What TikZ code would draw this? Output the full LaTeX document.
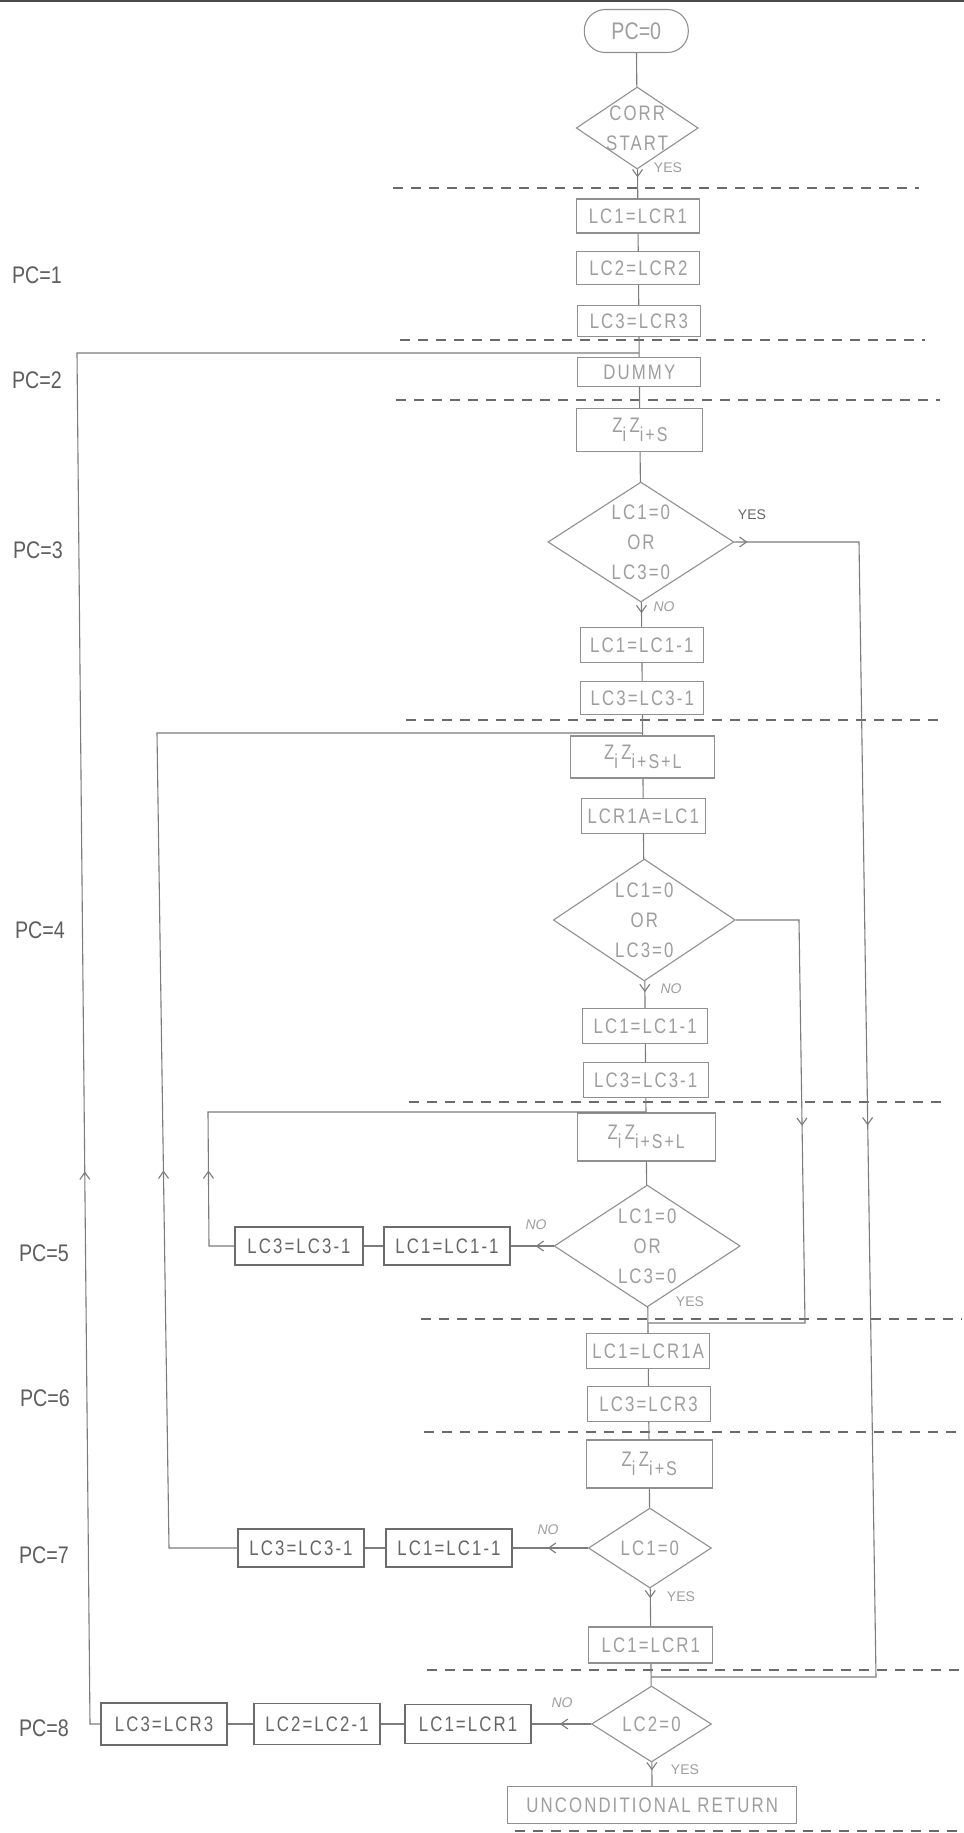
\documentclass[tikz,border=0pt]{standalone}
\usepackage{fontspec}
\setmainfont{Liberation Sans}
\newfontfamily\labfont[FakeStretch=0.82]{Liberation Sans}
\newfontfamily\bfnt[FakeStretch=0.8,LetterSpace=10]{Liberation Sans}
\usetikzlibrary{arrows.meta,decorations.markings,shapes.geometric}
\definecolor{linec}{HTML}{7C7C7C}
\definecolor{boxc}{HTML}{909090}
\definecolor{sboxc}{HTML}{6C6C6C}
\definecolor{mtxt}{HTML}{9E9E9E}
\definecolor{stxt}{HTML}{666666}
\definecolor{dashc}{HTML}{6A6A6A}
\definecolor{labc}{HTML}{5E5E5E}
\definecolor{edgec}{HTML}{4A4A4A}
\newcommand\zsub[1]{\raisebox{-0.45em}{\fontsize{10}{10}\selectfont #1}}
\tikzset{
  box/.style={draw=boxc, line width=0.55pt, minimum width=61.5pt, minimum height=17pt,
    inner sep=1pt, text=mtxt, font=\bfnt\fontsize{10.5}{12}\selectfont},
  sbox/.style={box, draw=sboxc, text=stxt, minimum width=63pt, minimum height=19pt},
  zbox/.style={box, minimum height=22pt},
  dia/.style={diamond, draw=boxc, line width=0.55pt, inner sep=-12pt, aspect=1.5,
    text=mtxt, align=center, font=\bfnt\fontsize{10.5}{15}\selectfont},
  term/.style={draw=boxc, line width=0.55pt, rounded corners=10.5pt, minimum width=52pt,
    minimum height=21.5pt, inner sep=1pt, text=mtxt, font=\labfont\fontsize{12}{14}\selectfont},
  lab/.style={text=labc, inner sep=0pt, font=\labfont\fontsize{12}{14}\selectfont},
  yeslab/.style={text=mtxt, inner sep=0pt, font=\fontsize{7}{8}\selectfont},
  nolab/.style={yeslab, font=\itshape\fontsize{7}{8}\selectfont},
  conn/.style={draw=linec, color=linec, line width=0.55pt},
  arr/.style={postaction={decorate, decoration={markings,
     mark=at position #1 with {\arrow{Straight Barb[length=3.5pt,width=5pt,line width=0.55pt]}}}}},
  dsh/.style={draw=dashc, line width=0.8pt, dash pattern=on 5pt off 4pt},
}
\begin{document}
\begin{tikzpicture}[x=0.5pt,y=-0.5pt]
\useasboundingbox (0,0) rectangle (964,1833);
\fill[white] (0,0) rectangle (964,1833);
\draw[edgec, line width=1pt] (0,1) -- (964,1);
% dashed separators
\draw[dsh] (393,188) -- (919,188);
\draw[dsh] (400,340) -- (925,340);
\draw[dsh] (396,400) -- (940,400);
\draw[dsh] (406,720) -- (943,720);
\draw[dsh] (409,1102) -- (947,1102);
\draw[dsh] (421,1319) -- (962,1319);
\draw[dsh] (424,1432) -- (962,1432);
\draw[dsh] (427,1670) -- (962,1670);
\draw[dsh] (515,1831) -- (964,1831);
% main column
\node[term] (pc0) at (636.3,31) {PC=0};
\node[dia, minimum width=61pt, minimum height=41pt] (cs) at (637.2,128) {CORR\\START};
\node[box] (b1) at (637.9,216) {LC1=LCR1};
\node[box, minimum height=16.5pt] (b2) at (638.4,268) {LC2=LCR2};
\node[box, minimum height=15.5pt] (b3) at (638.9,321) {LC3=LCR3};
\node[box, minimum height=14.5pt] (dummy) at (639.3,372) {DUMMY};
\node[zbox, minimum width=63pt, minimum height=21.5pt] (z1) at (639.9,430) {Z\zsub{i}\,Z\zsub{i+S}};
\node[dia, minimum width=93pt, minimum height=60pt] (d1) at (640.9,542) {LC1=0\\OR\\LC3=0};
\node[box, minimum height=17.5pt] (b4) at (641.8,645) {LC1=LC1-1};
\node[box, minimum height=16.5pt] (b5) at (642.3,698) {LC3=LC3-1};
\node[zbox, minimum width=72pt, minimum height=21pt] (z2) at (642.8,757) {Z\zsub{i}\,Z\zsub{i+S+L}};
\node[box, minimum width=62pt, minimum height=17.5pt] (b6) at (643.3,816) {LCR1A=LC1};
\node[dia, minimum width=91pt, minimum height=61pt] (d2) at (644.3,920) {LC1=0\\OR\\LC3=0};
\node[box, minimum width=62.5pt, minimum height=17.5pt] (b7) at (645.2,1026) {LC1=LC1-1};
\node[box, minimum width=62.5pt, minimum height=17.5pt] (b8) at (645.7,1080) {LC3=LC3-1};
\node[zbox, minimum width=69pt, minimum height=24pt] (z3) at (646.2,1137) {Z\zsub{i}\,Z\zsub{i+S+L}};
\node[dia, minimum width=93pt, minimum height=61pt] (d3) at (647.2,1246) {LC1=0\\OR\\LC3=0};
\node[box, minimum height=17.5pt] (b11) at (648.2,1351) {LC1=LCR1A};
\node[box, minimum height=17.5pt] (b12) at (648.6,1404) {LC3=LCR3};
\node[zbox, minimum width=63pt, minimum height=24pt] (z4) at (649.2,1464) {Z\zsub{i}\,Z\zsub{i+S}};
\node[dia, minimum width=61.5pt, minimum height=40pt] (d4) at (649.9,1548) {LC1=0};
\node[box, minimum width=62pt, minimum height=18pt] (b15) at (650.8,1645) {LC1=LCR1};
\node[dia, minimum width=60pt, minimum height=38pt] (d5) at (651.5,1724) {LC2=0};
\node[box, minimum width=144.5pt, minimum height=18.5pt] (ret) at (652.2,1805) {UNCONDITIONAL RETURN};
% side boxes
\node[sbox] (b9) at (447,1246) {LC1=LC1-1};
\node[sbox, minimum width=64pt] (b10) at (299,1246) {LC3=LC3-1};
\node[sbox] (b13) at (449,1548) {LC1=LC1-1};
\node[sbox] (b14) at (301,1548) {LC3=LC3-1};
\node[sbox, minimum height=19.5pt] (b16) at (468,1724) {LC1=LCR1};
\node[sbox, minimum height=20.5pt] (b17) at (317,1724) {LC2=LC2-1};
\node[sbox, minimum height=21pt] (b18) at (164,1724) {LC3=LCR3};
% junction and corner coordinates
\coordinate (j1) at (639.2,353);
\coordinate (j2) at (642.6,733);
\coordinate (j3) at (646,1112);
\coordinate (j4) at (647.9,1323);
\coordinate (j5) at (651.1,1677);
\coordinate (c1a) at (90,1724); \coordinate (c1b) at (77,353);
\coordinate (c2a) at (169,1548); \coordinate (c2b) at (157,733);
\coordinate (c3a) at (209,1246); \coordinate (c3b) at (208,1112);
\coordinate (r1a) at (859,542); \coordinate (r1b) at (876,1677);
\coordinate (r2a) at (799,920); \coordinate (r2b) at (805,1323);
% main column connectors
\draw[conn] (pc0) -- (cs);
\draw[conn, arr=4pt] (cs) -- (b1);
\draw[conn] (b1) -- (b2);
\draw[conn] (b2) -- (b3);
\draw[conn] (b3) -- (dummy);
\draw[conn] (dummy) -- (z1);
\draw[conn] (z1) -- (d1);
\draw[conn, arr=5.5pt] (d1) -- (b4);
\draw[conn] (b4) -- (b5);
\draw[conn] (b5) -- (z2);
\draw[conn] (z2) -- (b6);
\draw[conn] (b6) -- (d2);
\draw[conn, arr=5.5pt] (d2) -- (b7);
\draw[conn] (b7) -- (b8);
\draw[conn] (b8) -- (z3);
\draw[conn] (z3) -- (d3);
\draw[conn] (d3) -- (b11);
\draw[conn] (b11) -- (b12);
\draw[conn] (b12) -- (z4);
\draw[conn] (z4) -- (d4);
\draw[conn, arr=5pt] (d4) -- (b15);
\draw[conn] (b15) -- (d5);
\draw[conn, arr=4pt] (d5) -- (ret);
% side branches
\draw[conn, arr=9pt] (d3.west) -- (b9.east);
\draw[conn] (b9) -- (b10);
\draw[conn, arr=20pt] (d4.west) -- (b13.east);
\draw[conn] (b13) -- (b14);
\draw[conn, arr=15.5pt] (d5.west) -- (b16.east);
\draw[conn] (b16) -- (b17);
\draw[conn] (b17) -- (b18);
% loops
\draw[conn, arr=50.5pt] (b10.west) -- (c3a) -- (c3b) -- (j3);
\draw[conn, arr=223pt] (b14.west) -- (c2a) -- (c2b) -- (j2);
\draw[conn, arr=281.5pt] (b18.west) -- (c1a) -- (c1b) -- (j1);
\draw[conn, arr=6.5pt, arr=354pt] (d1.east) -- (r1a) -- (r1b) -- (j5);
\draw[conn, arr=134.5pt] (d2.east) -- (r2a) -- (r2b) -- (j4);
% yes / no labels
\node[yeslab] (ycs) at (668,168) {YES};
\node[yeslab, text=stxt] (yd1) at (752,515) {YES};
\node[nolab] (nd1) at (664,607) {NO};
\node[nolab] (nd2) at (671,989) {NO};
\node[nolab] (nd3) at (536,1225) {NO};
\node[yeslab] (yd3) at (690,1302) {YES};
\node[nolab] (nd4) at (548,1530) {NO};
\node[yeslab] (yd4) at (681,1597) {YES};
\node[nolab] (nd5) at (562,1703) {NO};
\node[yeslab] (yd5) at (685,1770) {YES};
% PC labels
\node[lab] (pc1) at (37,275) {PC=1};
\node[lab] (pc2) at (37,380) {PC=2};
\node[lab] (pc3) at (38,550) {PC=3};
\node[lab] (pc4) at (40,930) {PC=4};
\node[lab] (pc5) at (44,1253) {PC=5};
\node[lab] (pc6) at (45,1398) {PC=6};
\node[lab] (pc7) at (44,1555) {PC=7};
\node[lab] (pc8) at (44,1728) {PC=8};
\end{tikzpicture}
\end{document}
